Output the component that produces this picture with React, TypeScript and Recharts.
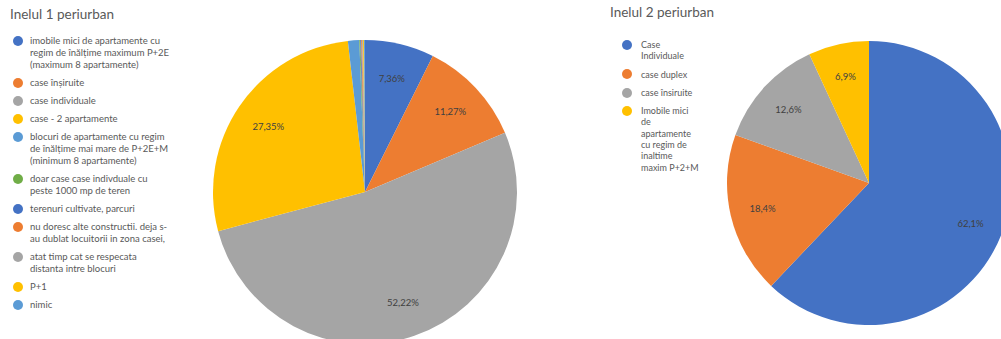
import React from 'react';
import { PieChart, Pie, Cell, Legend } from 'recharts';

const ring1Title = 'Inelul 1 periurban';
const ring1Names = [
  'imobile mici de apartamente cu\nregim de înălțime maximum P+2E\n(maximum 8 apartamente)',
  'case înșiruite',
  'case individuale',
  'case - 2 apartamente',
  'blocuri de apartamente cu regim\nde înălțime mai mare de P+2E+M\n(minimum 8 apartamente)',
  'doar case case indivduale cu\npeste 1000 mp de teren',
  'terenuri cultivate, parcuri',
  'nu doresc alte constructii. deja s-\nau dublat locuitorii in zona casei,',
  'atat timp cat se respecata\ndistanta intre blocuri',
  'P+1',
  'nimic',
];
const ring1Values = [7.36, 11.27, 52.22, 27.35, 1.2, 0.1, 0.1, 0.1, 0.1, 0.1, 0.1];

const ring2Title = 'Inelul 2 periurban';
const ring2Names = [
  'Case\nIndividuale',
  'case duplex',
  'case însiruite',
  'Imobile mici\nde\napartamente\ncu regim de\ninaltime\nmaxim P+2+M',
];
const ring2Values = [62.1, 18.4, 12.6, 6.9];

const palette = [
  '#4472C4', '#ED7D31', '#A5A5A5', '#FFC000', '#5B9BD5', '#70AD47',
  '#4472C4', '#ED7D31', '#A5A5A5', '#FFC000', '#5B9BD5',
];

const FONT = 'Lato, "Open Sans", sans-serif';
const RAD = Math.PI / 180;

const ring1 = ring1Names.map((name, i) => ({ name, value: ring1Values[i] }));
const ring2 = ring2Names.map((name, i) => ({ name, value: ring2Values[i] }));

function makeLabel(decimals: number, minValue: number) {
  return (props: any) => {
    const { cx, cy, midAngle, outerRadius, value } = props;
    if (value < minValue) return null;
    const r = outerRadius * 0.77;
    const x = cx + r * Math.cos(-midAngle * RAD);
    const y = cy + r * Math.sin(-midAngle * RAD);
    return (
      <text
        x={x}
        y={y}
        fill="#404040"
        fontSize={9.5}
        fontFamily={FONT}
        textAnchor="middle"
        dominantBaseline="central"
      >
        {value.toFixed(decimals).replace('.', ',') + '%'}
      </text>
    );
  };
}

function makeLegend(
  title: string,
  names: string[],
  opts: { titleLeft: number; titleTop: number; listLeft: number; listTop: number; fontSize: number; lineHeight: number; gap: number; bulletX: number; textX: number }
) {
  return () => (
    <div style={{ position: 'relative', fontFamily: FONT, color: '#595959' }}>
      <div
        style={{
          position: 'absolute',
          left: opts.titleLeft,
          top: opts.titleTop,
          fontSize: 13.5,
          whiteSpace: 'nowrap',
          lineHeight: '16px',
        }}
      >
        {title}
      </div>
      <div style={{ position: 'absolute', left: opts.listLeft, top: opts.listTop }}>
        {names.map((n, i) => (
          <div
            key={i}
            style={{
              position: 'relative',
              marginBottom: opts.gap,
              fontSize: opts.fontSize,
              lineHeight: opts.lineHeight + 'px',
              whiteSpace: 'pre',
              paddingLeft: opts.textX,
            }}
          >
            <span
              style={{
                position: 'absolute',
                left: opts.bulletX - 5,
                top: opts.lineHeight / 2 - 5,
                width: 10,
                height: 10,
                borderRadius: 5,
                background: palette[i],
              }}
            />
            {n}
          </div>
        ))}
      </div>
    </div>
  );
}

export default function App() {
  return (
    <div style={{ position: 'absolute', left: 0, top: 0, width: 1001, height: 339, background: '#fff', overflow: 'hidden' }}>
      <div style={{ position: 'absolute', left: 0, top: 0 }}>
        <PieChart width={600} height={339} margin={{ top: 0, right: 0, bottom: 0, left: 0 }}>
          <Pie
            data={ring1}
            dataKey="value"
            nameKey="name"
            cx={365}
            cy={192}
            outerRadius={152}
            startAngle={90}
            endAngle={-270}
            stroke="none"
            labelLine={false}
            label={makeLabel(2, 5)}
            isAnimationActive={false}
          >
            {ring1.map((_, i) => (
              <Cell key={i} fill={palette[i]} />
            ))}
          </Pie>
          <Legend
            layout="horizontal"
            align="center"
            verticalAlign="middle"
            wrapperStyle={{ left: 0, top: 0, width: 220, height: 339 }}
            content={makeLegend(ring1Title, ring1Names, {
              titleLeft: 10,
              titleTop: 6,
              listLeft: 0,
              listTop: 35,
              fontSize: 9.5,
              lineHeight: 12,
              gap: 6,
              bulletX: 18,
              textX: 30,
            })}
          />
        </PieChart>
      </div>
      <div style={{ position: 'absolute', left: 600, top: 0 }}>
        <PieChart width={401} height={339} margin={{ top: 0, right: 0, bottom: 0, left: 0 }}>
          <Pie
            data={ring2}
            dataKey="value"
            nameKey="name"
            cx={269}
            cy={183}
            outerRadius={142}
            startAngle={90}
            endAngle={-270}
            stroke="none"
            labelLine={false}
            label={makeLabel(1, 0)}
            isAnimationActive={false}
          >
            {ring2.map((_, i) => (
              <Cell key={i} fill={palette[i]} />
            ))}
          </Pie>
          <Legend
            layout="horizontal"
            align="center"
            verticalAlign="middle"
            wrapperStyle={{ left: 0, top: 0, width: 120, height: 339 }}
            content={makeLegend(ring2Title, ring2Names, {
              titleLeft: 10,
              titleTop: 4,
              listLeft: 0,
              listTop: 39,
              fontSize: 9,
              lineHeight: 11.3,
              gap: 7,
              bulletX: 27,
              textX: 41,
            })}
          />
        </PieChart>
      </div>
    </div>
  );
}
